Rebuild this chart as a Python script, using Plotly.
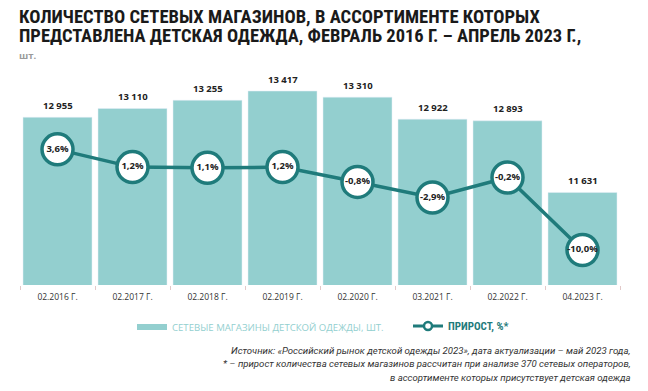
import plotly.graph_objects as go

categories = ["02.2016 Г.", "02.2017 Г.", "02.2018 Г.", "02.2019 Г.",
              "02.2020 Г.", "03.2021 Г.", "02.2022 Г.", "04.2023 Г."]
stores = [12955, 13110, 13255, 13417, 13310, 12922, 12893, 11631]
growth = [3.6, 1.2, 1.1, 1.2, -0.8, -2.9, -0.2, -10.0]

title_lines = ["КОЛИЧЕСТВО СЕТЕВЫХ МАГАЗИНОВ, В АССОРТИМЕНТЕ КОТОРЫХ",
               "ПРЕДСТАВЛЕНА ДЕТСКАЯ ОДЕЖДА, ФЕВРАЛЬ 2016 Г. – АПРЕЛЬ 2023 Г.,"]
unit_text = "шт."
source_lines = ["Источник: «Российский рынок детской одежды 2023», дата актуализации – май 2023 года,",
                "* – прирост количества сетевых магазинов рассчитан при анализе 370 сетевых операторов,",
                "в ассортименте которых присутствует детская одежда"]

store_labels = [f"{v:,}".replace(",", " ") for v in stores]
growth_labels = [f"{g:.1f}%".replace(".", ",") for g in growth]

BAR = "#93cfcf"
LINE = "#1f7b7b"
COND = "Liberation Sans Narrow, Roboto Condensed, Arial Narrow, sans-serif"
SANS = "Open Sans, Lato, sans-serif"

# page body has an 8px margin: the figure is drawn at (8, 8) in the window
OFF = 8
W, H = 648 - OFF, 391 - OFF
ML, MR, MT, MB = 20 - OFF, 648 - 620, 75 - OFF, 391 - 285
PW, PH = W - ML - MR, H - MT - MB


def px_x(x):  # window pixel -> paper x
    return (x - OFF - ML) / PW


def px_y(y):  # window pixel -> paper y
    return (H - MB - (y - OFF)) / PH


fig = go.Figure()
fig.add_trace(go.Bar(
    x=categories, y=stores, marker_color=BAR, width=0.92,
    showlegend=False, hoverinfo="skip"))
fig.add_trace(go.Scatter(
    x=categories, y=growth, yaxis="y2", mode="lines+markers+text",
    line=dict(color=LINE, width=3.5),
    marker=dict(size=31, color="white", line=dict(color=LINE, width=3.5)),
    text=growth_labels, textposition="middle center",
    textfont=dict(family=SANS, size=9.5, color="#222222", weight="bold"),
    showlegend=False, cliponaxis=False, hoverinfo="skip"))
# legend entries
fig.add_trace(go.Scatter(
    x=[None], y=[None], mode="lines", line=dict(color=BAR, width=6), legend="legend",
    name=f"<span style='color:{BAR}'>СЕТЕВЫЕ МАГАЗИНЫ ДЕТСКОЙ ОДЕЖДЫ, ШТ.</span>"))
fig.add_trace(go.Scatter(
    x=[None], y=[None], mode="lines+markers", legend="legend2",
    line=dict(color=LINE, width=3),
    marker=dict(size=8, color="white", line=dict(color=LINE, width=2.5)),
    name=f"<span style='color:{LINE}'><b>ПРИРОСТ, %*</b></span>", yaxis="y2"))

for c, v, t in zip(categories, stores, store_labels):
    fig.add_annotation(x=c, y=v, text=f"<b>{t}</b>", showarrow=False, yanchor="middle",
                       yshift=12, font=dict(family=SANS, size=9.5, color="#222222"))

fig.update_layout(
    width=W, height=H,
    margin=dict(l=ML, r=MR, t=MT, b=MB, autoexpand=False),
    paper_bgcolor="white", plot_bgcolor="white",
    xaxis=dict(range=[-0.5, len(categories) - 0.5], showgrid=False, showline=False,
               ticks="outside", tickson="boundaries", ticklen=4, tickcolor="#e2c9c9",
               automargin=False, ticklabelstandoff=5,
               tickfont=dict(family=SANS, size=8.5, color="#333333")),
    yaxis=dict(range=[10000, 13700], visible=False, showgrid=False, automargin=False),
    yaxis2=dict(range=[-14.73, 13.65], overlaying="y", visible=False, showgrid=False,
                automargin=False),
    legend=dict(orientation="h", x=px_x(132), xanchor="left", y=px_y(327), yanchor="middle",
                font=dict(family=SANS, size=9.6), itemwidth=30,
                bgcolor="rgba(0,0,0,0)"),
    legend2=dict(orientation="h", x=px_x(408), xanchor="left", y=px_y(326), yanchor="middle",
                 font=dict(family=COND, size=11), itemwidth=30,
                 bgcolor="rgba(0,0,0,0)"),
    showlegend=True,
)

fig.add_annotation(
    xref="paper", yref="paper", x=px_x(17), y=px_y(16.5), xanchor="left", yanchor="middle",
    text=f"<b>{title_lines[0]}</b>", showarrow=False,
    font=dict(family=COND, size=18.6, color="#1a1a1a"))
fig.add_annotation(
    xref="paper", yref="paper", x=px_x(17), y=px_y(35.5), xanchor="left", yanchor="middle",
    text=f"<b>{title_lines[1]}</b>", showarrow=False,
    font=dict(family=COND, size=18.5, color="#1a1a1a"))
fig.add_annotation(
    xref="paper", yref="paper", x=px_x(17), y=px_y(55.5), xanchor="left", yanchor="middle",
    text=f"<b>{unit_text}</b>", showarrow=False,
    font=dict(family=SANS, size=9.5, color="#9a9a9a"))
for i, line in enumerate(source_lines):
    fig.add_annotation(
        xref="paper", yref="paper", x=px_x(633), y=px_y(350 + 13.5 * i),
        xanchor="right", yanchor="middle", text=f"<i>{line}</i>", showarrow=False,
        font=dict(family="Roboto, sans-serif", size=9.6, color="#333333"))

fig.write_html("out.html")
